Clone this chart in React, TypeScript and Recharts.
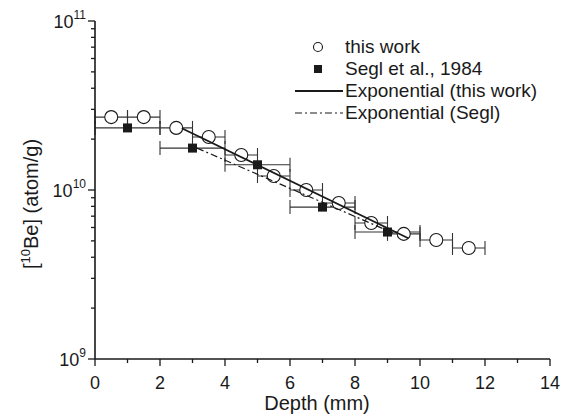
import React from "react";
import { ScatterChart, Scatter, XAxis, YAxis, ErrorBar, Legend } from "recharts";

// depth (mm) and [10Be] (atom/g)
const depthThisWork = [0.5, 1.5, 2.5, 3.5, 4.5, 5.5, 6.5, 7.5, 8.5, 9.5, 10.5, 11.5];
const beThisWork = [2.7e10, 2.7e10, 2.33e10, 2.06e10, 1.61e10, 1.21e10, 1.0e10, 8.37e9, 6.38e9, 5.5e9, 5.06e9, 4.54e9];
const depthErrThisWork = [0.5, 0.5, 0.5, 0.5, 0.5, 0.5, 0.5, 0.5, 0.5, 0.5, 0.5, 0.5];

const depthSegl = [1, 3, 5, 7, 9];
const beSegl = [2.33e10, 1.77e10, 1.41e10, 7.92e9, 5.64e9];
const depthErrSegl = [1, 1, 1, 1, 1];

// fitted exponentials are straight on a log axis: just the two ends
const fitThisWorkDepth = [2.67, 9.64];
const fitThisWorkBe = [2.32e10, 5.18e9];
const fitSeglDepth = [3.14, 9.17];
const fitSeglBe = [1.77e10, 5.57e9];

const xTicks = [0, 1, 2, 3, 4, 5, 6, 7, 8, 9, 10, 11, 12, 13, 14];
const xLabelTicks = [0, 2, 4, 6, 8, 10, 12, 14];
const yTicks = [
  1e9, 2e9, 3e9, 4e9, 5e9, 6e9, 7e9, 8e9, 9e9,
  1e10, 2e10, 3e10, 4e10, 5e10, 6e10, 7e10, 8e10, 9e10, 1e11,
];
const yDecades = [1e9, 1e10, 1e11];
const decadeExp = ["9", "10", "11"];

const legendNames = ["this work", "Segl et al., 1984", "Exponential (this work)", "Exponential (Segl)"];

const INK = "#1a1a1a";
const FONT = "'Liberation Sans', Arial, Helvetica, sans-serif";

const thisWorkData = depthThisWork.map((x, i) => ({ x, y: beThisWork[i], xErr: depthErrThisWork[i] }));
const seglData = depthSegl.map((x, i) => ({ x, y: beSegl[i], xErr: depthErrSegl[i] }));
const fitThisWorkData = fitThisWorkDepth.map((x, i) => ({ x, y: fitThisWorkBe[i] }));
const fitSeglData = fitSeglDepth.map((x, i) => ({ x, y: fitSeglBe[i] }));

const OpenCircle = (props: any) => (
  <circle cx={props.cx} cy={props.cy} r={6.5} fill="#fff" stroke={INK} strokeWidth={1.1} />
);

const FilledSquare = (props: any) => (
  <rect x={props.cx - 4.5} y={props.cy - 4.5} width={9} height={9} fill={INK} />
);

const NoDot = () => <g />;

const BottomTick = ({ x, y, payload }: any) => {
  const major = xLabelTicks.includes(payload.value);
  return (
    <g>
      <line x1={x} x2={x} y1={y} y2={y + (major ? 7 : 4)} stroke={INK} strokeWidth={1.3} />
      {major && (
        <text x={x} y={y + 30} textAnchor="middle" fontSize={18} fill={INK} fontFamily={FONT}>
          {payload.value}
        </text>
      )}
    </g>
  );
};

const TopTick = ({ x, y, payload }: any) => {
  const major = xLabelTicks.includes(payload.value);
  return <line x1={x} x2={x} y1={y} y2={y + (major ? 6 : 3)} stroke={INK} strokeWidth={1.3} />;
};

const LeftTick = ({ x, y, payload }: any) => {
  const k = yDecades.indexOf(payload.value);
  const major = k >= 0;
  return (
    <g>
      <line x1={x} x2={x - (major ? 7 : 4)} y1={y} y2={y} stroke={INK} strokeWidth={1.3} />
      {major && (
        <text x={x - 9} y={y + 7} textAnchor="end" fontSize={18} fill={INK} fontFamily={FONT}>
          10
          <tspan fontSize={12} dy={-9}>{decadeExp[k]}</tspan>
        </text>
      )}
    </g>
  );
};

const RightTick = ({ x, y, payload }: any) => {
  const major = yDecades.includes(payload.value);
  return <line x1={x} x2={x - (major ? 6 : 3)} y1={y} y2={y} stroke={INK} strokeWidth={1.3} />;
};

const YTitle = () => (
  <text transform="translate(38,204) rotate(-90)" textAnchor="middle" fontSize={20} fill={INK} fontFamily={FONT}>
    [<tspan fontSize={13} dy={-8}>10</tspan>
    <tspan dy={8}>Be] (atom/g)</tspan>
  </text>
);

const XTitle = () => (
  <text x={317} y={410} textAnchor="middle" fontSize={20} fill={INK} fontFamily={FONT}>
    Depth (mm)
  </text>
);

const LegendBox = () => (
  <svg width={262} height={90} style={{ display: "block" }}>
    <circle cx={26} cy={11} r={4.5} fill="#fff" stroke={INK} strokeWidth={1.1} />
    <rect x={22} y={29} width={8} height={8} fill={INK} />
    <line x1={3} x2={51} y1={55} y2={55} stroke={INK} strokeWidth={1.8} />
    <line x1={3} x2={51} y1={77} y2={77} stroke={INK} strokeWidth={1.2} strokeDasharray="7 3 2 3" />
    {legendNames.map((name, i) => (
      <text key={name} x={53} y={17 + i * 22} fontSize={19} fill={INK} fontFamily={FONT}>
        {name}
      </text>
    ))}
  </svg>
);

export default function App() {
  return (
    <div style={{ position: "absolute", left: 0, top: 0, width: 561, height: 420, background: "#fff", fontFamily: FONT }}>
      <ScatterChart width={561} height={420} margin={{ top: 21, right: 11, bottom: 0, left: 0 }}>
        <XAxis
          xAxisId="b"
          dataKey="x"
          type="number"
          domain={[0, 14]}
          ticks={xTicks}
          interval={0}
          height={61}
          tickSize={0}
          tickMargin={0}
          tickLine={false}
          axisLine={{ stroke: INK, strokeWidth: 1.6 }}
          tick={<BottomTick />}
          label={<XTitle />}
        />
        <XAxis
          xAxisId="t"
          dataKey="x"
          type="number"
          orientation="top"
          mirror
          domain={[0, 14]}
          ticks={xTicks}
          interval={0}
          height={0}
          tickSize={0}
          tickMargin={0}
          tickLine={false}
          axisLine={{ stroke: INK, strokeWidth: 1.6 }}
          tick={<TopTick />}
        />
        <YAxis
          yAxisId="l"
          dataKey="y"
          type="number"
          scale="log"
          domain={[1e9, 1e11]}
          allowDataOverflow
          ticks={yTicks}
          interval={0}
          width={95}
          tickSize={0}
          tickMargin={0}
          tickLine={false}
          axisLine={{ stroke: INK, strokeWidth: 1.6 }}
          tick={<LeftTick />}
          label={<YTitle />}
        />
        <YAxis
          yAxisId="r"
          dataKey="y"
          type="number"
          orientation="right"
          mirror
          scale="log"
          domain={[1e9, 1e11]}
          allowDataOverflow
          ticks={yTicks}
          interval={0}
          width={0}
          tickSize={0}
          tickMargin={0}
          tickLine={false}
          axisLine={{ stroke: INK, strokeWidth: 1.6 }}
          tick={<RightTick />}
        />
        <Legend
          layout="vertical"
          align="center"
          verticalAlign="middle"
          wrapperStyle={{ top: 36, left: 292, width: 262, height: 90 }}
          content={<LegendBox />}
        />
        <Scatter
          name="this work"
          data={thisWorkData}
          xAxisId="b"
          yAxisId="l"
          shape={<OpenCircle />}
          isAnimationActive={false}
        >
          <ErrorBar dataKey="xErr" direction="x" width={7} stroke="#333" strokeWidth={1.1} />
        </Scatter>
        <Scatter
          name="Segl et al., 1984"
          data={seglData}
          xAxisId="b"
          yAxisId="l"
          shape={<FilledSquare />}
          isAnimationActive={false}
        >
          <ErrorBar dataKey="xErr" direction="x" width={7} stroke="#333" strokeWidth={1.1} />
        </Scatter>
        <Scatter
          name="Exponential (this work)"
          data={fitThisWorkData}
          xAxisId="b"
          yAxisId="l"
          shape={<NoDot />}
          line={{ stroke: INK, strokeWidth: 1.8 }}
          isAnimationActive={false}
        />
        <Scatter
          name="Exponential (Segl)"
          data={fitSeglData}
          xAxisId="b"
          yAxisId="l"
          shape={<NoDot />}
          line={{ stroke: INK, strokeWidth: 1.2, strokeDasharray: "7 3 2 3" }}
          isAnimationActive={false}
        />
      </ScatterChart>
    </div>
  );
}
